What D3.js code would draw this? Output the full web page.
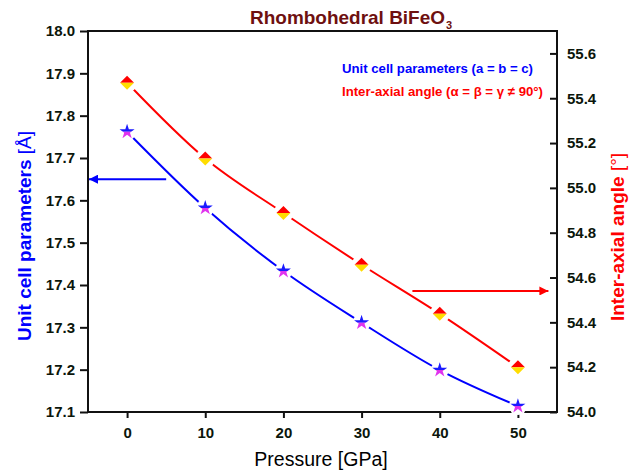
<!DOCTYPE html>
<html>
<head>
<meta charset="utf-8">
<script src="https://cdn.jsdelivr.net/npm/d3@7"></script>
<style>
  body { margin: 0; background: #fff; }
  svg { display: block; font-family: "Liberation Sans", Arial, sans-serif; }
</style>
</head>
<body>
<div id="chart"></div>
<script>
// Data
var pressure = [0, 10, 20, 30, 40, 50];
var cellParam = [17.762, 17.582, 17.433, 17.311, 17.199, 17.114];
var angle = [55.469, 55.131, 54.888, 54.657, 54.438, 54.200];

var xTicks = [0, 10, 20, 30, 40, 50];
var leftTicks = [17.1, 17.2, 17.3, 17.4, 17.5, 17.6, 17.7, 17.8, 17.9, 18.0];
var rightTicks = [54.0, 54.2, 54.4, 54.6, 54.8, 55.0, 55.2, 55.4, 55.6];

var svgWidth = 639;
var svgHeight = 472;
var margin = { top: 31, right: 82, bottom: 60, left: 88 };
var width = svgWidth - margin.left - margin.right;
var height = svgHeight - margin.top - margin.bottom;

var svg = d3.select("#chart").append("svg")
  .attr("width", svgWidth)
  .attr("height", svgHeight);

var defs = svg.append("defs");
defs.append("clipPath").attr("id", "topHalf")
  .append("rect").attr("x", -20).attr("y", -20).attr("width", 40).attr("height", 20);
defs.append("clipPath").attr("id", "bottomHalf")
  .append("rect").attr("x", -20).attr("y", 0).attr("width", 40).attr("height", 20);

function arrowHead(id, color) {
  defs.append("marker")
    .attr("id", id)
    .attr("viewBox", "0 0 10 10")
    .attr("refX", 10).attr("refY", 5)
    .attr("markerUnits", "userSpaceOnUse")
    .attr("markerWidth", 14).attr("markerHeight", 9)
    .attr("orient", "auto")
    .append("path")
    .attr("d", "M0,0 L10,5 L0,10 Z")
    .attr("fill", color);
}
arrowHead("arrowBlue", "#0000ff");
arrowHead("arrowRed", "#ff0000");

var chartGroup = svg.append("g")
  .attr("transform", `translate(${margin.left}, ${margin.top})`);

var xScale = d3.scaleLinear().domain([-5, 55]).range([0, width]);
var yLeft = d3.scaleLinear().domain([17.1, 18.0]).range([height, 0]);
var yRight = d3.scaleLinear().domain([54.0, 55.7]).range([height, 0]);

// axes
var bottomAxis = d3.axisBottom(xScale).tickValues(xTicks)
  .tickSizeInner(6).tickSizeOuter(0).tickPadding(9).tickFormat(d3.format("d"));
var leftAxis = d3.axisLeft(yLeft).tickValues(leftTicks)
  .tickSizeInner(8).tickSizeOuter(0).tickPadding(5).tickFormat(d3.format(".1f"));
var rightAxis = d3.axisRight(yRight).tickValues(rightTicks)
  .tickSizeInner(-7).tickSizeOuter(0).tickPadding(10).tickFormat(d3.format(".1f"));

var xAxisG = chartGroup.append("g")
  .attr("transform", `translate(0, ${height})`)
  .call(bottomAxis);
var yLeftG = chartGroup.append("g").call(leftAxis);
var yRightG = chartGroup.append("g")
  .attr("transform", `translate(${width}, 0)`)
  .call(rightAxis);

[xAxisG, yLeftG, yRightG].forEach(function (g) {
  g.select(".domain").remove();
  g.selectAll("line").attr("stroke", "#111").attr("stroke-width", 2);
  g.selectAll("text")
    .attr("fill", "#0b160b")
    .style("font-size", "15px")
    .style("font-weight", "bold")
    .style("font-family", "'Liberation Sans', Arial, sans-serif");
});

// frame
chartGroup.append("rect")
  .attr("x", 0).attr("y", 0)
  .attr("width", width).attr("height", height)
  .attr("fill", "none")
  .attr("stroke", "#111")
  .attr("stroke-width", 2);

// lines
var cellLine = d3.line()
  .x(function (d, i) { return xScale(pressure[i]); })
  .y(function (d) { return yLeft(d); })
  .curve(d3.curveMonotoneX);
var angleLine = d3.line()
  .x(function (d, i) { return xScale(pressure[i]); })
  .y(function (d) { return yRight(d); })
  .curve(d3.curveMonotoneX);

chartGroup.append("path")
  .attr("d", cellLine(cellParam))
  .attr("fill", "none").attr("stroke", "#0000ff").attr("stroke-width", 2);
chartGroup.append("path")
  .attr("d", angleLine(angle))
  .attr("fill", "none").attr("stroke", "#ff0000").attr("stroke-width", 2);

// white gaps around the markers
chartGroup.selectAll(".gapBlue").data(cellParam).enter().append("circle")
  .attr("cx", function (d, i) { return xScale(pressure[i]); })
  .attr("cy", function (d) { return yLeft(d); })
  .attr("r", 9).attr("fill", "#fff");
chartGroup.selectAll(".gapRed").data(angle).enter().append("circle")
  .attr("cx", function (d, i) { return xScale(pressure[i]); })
  .attr("cy", function (d) { return yRight(d); })
  .attr("r", 10).attr("fill", "#fff");

// star markers, blue top / magenta bottom
var starPath = d3.symbol().type(d3.symbolStar).size(70)();
var stars = chartGroup.selectAll(".star").data(cellParam).enter().append("g")
  .attr("transform", function (d, i) { return `translate(${xScale(pressure[i])}, ${yLeft(d)})`; });
stars.append("path").attr("d", starPath).attr("fill", "#1a1aff").attr("clip-path", "url(#topHalf)");
stars.append("path").attr("d", starPath).attr("fill", "#e033ee").attr("clip-path", "url(#bottomHalf)");

// diamond markers, red top / yellow bottom
var diamonds = chartGroup.selectAll(".diamond").data(angle).enter().append("g")
  .attr("transform", function (d, i) { return `translate(${xScale(pressure[i])}, ${yRight(d)})`; });
diamonds.append("path").attr("d", "M-7,0 L0,-7 L7,0 Z").attr("fill", "#ff0000");
diamonds.append("path").attr("d", "M-7,0 L0,7 L7,0 Z").attr("fill", "#ffdd00");

// arrows pointing to each axis
chartGroup.append("line")
  .attr("x1", xScale(5)).attr("x2", xScale(-5) + 1)
  .attr("y1", yLeft(17.65)).attr("y2", yLeft(17.65))
  .attr("stroke", "#0000ff").attr("stroke-width", 2)
  .attr("marker-end", "url(#arrowBlue)");
chartGroup.append("line")
  .attr("x1", xScale(36.5)).attr("x2", xScale(53.9))
  .attr("y1", yRight(54.54)).attr("y2", yRight(54.54))
  .attr("stroke", "#ff0000").attr("stroke-width", 2)
  .attr("marker-end", "url(#arrowRed)");

// legend text
svg.append("text")
  .attr("x", 342).attr("y", 73)
  .attr("fill", "#0000ff")
  .style("font-size", "13px").style("font-weight", "bold")
  .attr("textLength", 191).attr("lengthAdjust", "spacingAndGlyphs")
  .text("Unit cell parameters (a = b = c)");
svg.append("text")
  .attr("x", 342).attr("y", 96)
  .attr("fill", "#ff0000")
  .style("font-size", "13px").style("font-weight", "bold")
  .attr("textLength", 201).attr("lengthAdjust", "spacingAndGlyphs")
  .text("Inter-axial angle (\u03b1 = \u03b2 = \u03b3 \u2260 90\u00b0)");

// title
svg.append("text")
  .attr("x", 250).attr("y", 24)
  .attr("fill", "#6e1010")
  .style("font-size", "18.5px").style("font-weight", "bold")
  .attr("textLength", 195).attr("lengthAdjust", "spacingAndGlyphs")
  .text("Rhombohedral BiFeO");
svg.append("text")
  .attr("x", 446).attr("y", 29)
  .attr("fill", "#6e1010")
  .style("font-size", "11px").style("font-weight", "bold")
  .text("3");

// axis titles
var leftTitle = svg.append("text")
  .attr("transform", "translate(31, 236) rotate(-90)")
  .attr("text-anchor", "middle")
  .attr("fill", "#0000ff")
  .style("font-size", "19px");
leftTitle.append("tspan").style("font-weight", "bold").text("Unit cell parameters ");
leftTitle.append("tspan").text("[\u00c5]");

var rightTitle = svg.append("text")
  .attr("transform", "translate(624, 237) rotate(-90)")
  .attr("text-anchor", "middle")
  .attr("fill", "#ff0000")
  .style("font-size", "19px");
rightTitle.append("tspan").style("font-weight", "bold").text("Inter-axial angle ");
rightTitle.append("tspan").text("[\u00b0]");

svg.append("text")
  .attr("x", 321).attr("y", 466)
  .attr("text-anchor", "middle")
  .attr("fill", "#000")
  .style("font-size", "19.5px")
  .text("Pressure [GPa]");
</script>
</body>
</html>
